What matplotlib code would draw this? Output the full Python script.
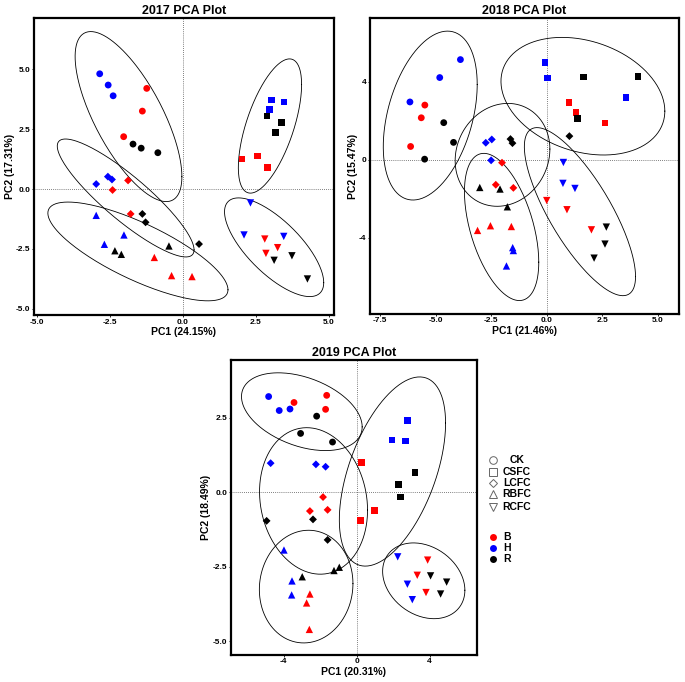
import numpy as np
import matplotlib
matplotlib.use("Agg")
import matplotlib.pyplot as plt
from matplotlib.lines import Line2D

plt.rcParams["font.family"] = ["Liberation Sans", "DejaVu Sans"]

# --- data -------------------------------------------------------
treatments = ["CK", "CSFC", "LCFC", "RBFC", "RCFC"]
sites = ["B", "H", "R"]          # 3 samples per site, in this order
site_colors = {"B": "#FF0000", "H": "#0000FF", "R": "#000000"}
markers = {"CK": "o", "CSFC": "s", "LCFC": "D", "RBFC": "^", "RCFC": "v"}
msize = {"CK": 24, "CSFC": 22, "LCFC": 16, "RBFC": 28, "RCFC": 28}

# rows = treatments, columns = B B B H H H R R R
pc1_2017 = [[-1.24, -1.39, -2.03, -2.85, -2.56, -2.39, -1.71, -1.43, -0.86],
            [2.02, 2.55, 2.90, 3.03, 3.45, 2.96, 2.88, 3.38, 3.17],
            [-1.88, -2.41, -1.79, -2.97, -2.57, -2.43, -1.39, -1.28, 0.55],
            [-0.98, -0.39, 0.31, -2.97, -2.02, -2.69, -2.33, -2.11, -0.48],
            [2.80, 2.84, 3.24, 2.31, 2.09, 3.45, 3.12, 3.73, 4.26]]
pc2_2017 = [[4.21, 3.26, 2.19, 4.82, 4.35, 3.90, 1.88, 1.71, 1.52],
            [1.25, 1.39, 0.91, 3.72, 3.64, 3.33, 3.05, 2.79, 2.37],
            [0.36, -0.04, -1.04, 0.21, 0.52, 0.40, -1.04, -1.39, -2.30],
            [-2.86, -3.62, -3.66, -1.10, -1.92, -2.31, -2.58, -2.73, -2.38],
            [-2.09, -2.69, -2.45, -0.58, -1.92, -1.98, -2.98, -2.79, -3.76]]

pc1_2018 = [[-5.48, -5.64, -6.12, -3.88, -4.81, -6.15, -4.63, -4.19, -5.49],
            [1.00, 1.32, 2.63, -0.07, 0.03, 3.56, 1.66, 4.10, 1.39],
            [-2.01, -2.29, -1.50, -2.74, -2.47, -2.50, -1.63, -1.54, 1.02],
            [-3.11, -2.53, -1.59, -1.53, -1.50, -1.81, -3.01, -2.10, -1.77],
            [0.00, 0.91, 2.01, 0.75, 0.73, 1.27, 2.68, 2.62, 2.13]]
pc2_2018 = [[2.80, 2.15, 0.68, 5.13, 4.21, 2.96, 1.90, 0.89, 0.03],
            [2.92, 2.43, 1.88, 4.97, 4.19, 3.18, 4.24, 4.27, 2.12],
            [-0.15, -1.28, -1.44, 0.87, 1.04, -0.03, 1.06, 0.85, 1.21],
            [-3.62, -3.38, -3.42, -4.50, -4.65, -5.44, -1.42, -1.50, -2.41],
            [-2.09, -2.56, -3.59, -0.14, -1.21, -1.47, -3.45, -4.32, -5.04]]

pc1_2019 = [[-3.43, -1.64, -1.70, -4.82, -4.24, -3.65, -2.19, -3.07, -1.32],
            [0.26, 0.99, 0.20, 2.78, 1.94, 2.67, 3.21, 2.30, 2.39],
            [-1.84, -2.56, -1.59, -4.71, -2.23, -1.70, -4.93, -2.39, -1.59],
            [-2.56, -2.74, -2.59, -3.98, -3.54, -3.56, -2.98, -1.24, -0.95],
            [3.89, 3.32, 3.80, 2.25, 2.78, 3.05, 4.05, 4.93, 4.60]]
pc2_2019 = [[3.02, 3.26, 2.79, 3.22, 2.75, 2.80, 2.56, 1.98, 1.69],
            [1.00, -0.61, -0.94, 2.42, 1.76, 1.73, 0.66, 0.27, -0.16],
            [-0.16, -0.63, -0.59, 0.98, 0.94, 0.86, -0.96, -0.91, -1.60],
            [-3.42, -3.72, -4.61, -1.94, -2.98, -3.45, -2.84, -2.63, -2.52],
            [-2.28, -2.79, -3.37, -2.17, -3.09, -3.61, -2.81, -3.02, -3.42]]

var_2017 = (24.15, 17.31)
var_2018 = (21.46, 15.47)
var_2019 = (20.31, 18.49)

F95 = 4.459  # qf(0.95, 2, 8): 95% ellipse, 9 samples per group


def cov_trob(X, nu=5, maxit=25, tol=0.01):
    # multivariate t estimate (same idea as MASS::cov.trob used by stat_ellipse)
    n, p = X.shape
    w = np.ones(n)
    loc = X.mean(axis=0)
    for _ in range(maxit):
        w0 = w
        Xc = X - loc
        _, d, vt = np.linalg.svd(np.sqrt(w / w.sum())[:, None] * Xc, full_matrices=False)
        wX = Xc @ vt.T / d
        Q = (wX ** 2).sum(axis=1)
        w = (nu + p) / (nu + Q)
        loc = (w[:, None] * X).sum(axis=0) / w.sum()
        if np.all(np.abs(w - w0) < tol):
            break
    cov = (np.sqrt(w)[:, None] * Xc).T @ (np.sqrt(w)[:, None] * Xc) / n
    return loc, cov


def conf_ellipse(ax, x, y):
    X = np.column_stack([x, y])
    loc, cov = cov_trob(X)
    r = np.sqrt(2 * F95)
    t = np.linspace(0, 2 * np.pi, 200)
    circ = np.column_stack([np.cos(t), np.sin(t)])
    pts = loc + r * circ @ np.linalg.cholesky(cov).T
    ax.plot(pts[:, 0], pts[:, 1], color="black", lw=0.6, zorder=1)


def pca_panel(ax, year, pc1, pc2, var, xlim, ylim, xticks, yticks, xfmt, yfmt):
    ax.axhline(0, color="#555555", lw=0.6, ls=(0, (1, 1.5)), zorder=0)
    ax.axvline(0, color="#555555", lw=0.6, ls=(0, (1, 1.5)), zorder=0)
    for i, tr in enumerate(treatments):
        conf_ellipse(ax, pc1[i], pc2[i])
        for j in range(9):
            s = sites[j // 3]
            ax.scatter(pc1[i][j], pc2[i][j], marker=markers[tr], s=msize[tr],
                       c=site_colors[s], edgecolors="none", zorder=3)
    ax.set_xlim(*xlim); ax.set_ylim(*ylim)
    ax.set_xticks(xticks); ax.set_yticks(yticks)
    ax.set_xticklabels([xfmt.format(v) for v in xticks], fontweight="bold")
    ax.set_yticklabels([yfmt.format(v) for v in yticks], fontweight="bold")
    ax.tick_params(labelsize=6, length=1.5, width=0.6, pad=1)
    for sp in ax.spines.values():
        sp.set_linewidth(1.6)
    ax.set_title(f"{year} PCA Plot", fontsize=9, fontweight="bold", pad=3)
    ax.set_xlabel(f"PC1 ({var[0]:.2f}%)", fontsize=7.5, fontweight="bold", labelpad=1)
    ax.set_ylabel(f"PC2 ({var[1]:.2f}%)", fontsize=7.5, fontweight="bold", labelpad=1)


fig = plt.figure(figsize=(6.85, 6.82), dpi=100)
ax1 = fig.add_axes([0.0496, 0.538, 0.438, 0.4355])
ax2 = fig.add_axes([0.540, 0.5396, 0.451, 0.434])
ax3 = fig.add_axes([0.337, 0.0396, 0.359, 0.4326])

pca_panel(ax1, 2017, pc1_2017, pc2_2017, var_2017, (-5.1, 5.17), (-5.27, 7.15),
          [-5, -2.5, 0, 2.5, 5], [-5, -2.5, 0, 2.5, 5], "{:.1f}", "{:.1f}")
pca_panel(ax2, 2018, pc1_2018, pc2_2018, var_2018, (-7.95, 5.94), (-7.9, 7.26),
          [-7.5, -5, -2.5, 0, 2.5, 5], [-4, 0, 4], "{:.1f}", "{:.0f}")
pca_panel(ax3, 2019, pc1_2019, pc2_2019, var_2019, (-6.89, 6.58), (-5.47, 4.45),
          [-4, 0, 4], [-5, -2.5, 0, 2.5], "{:.0f}", "{:.1f}")

# --- legends (drawn by hand to mimic ggplot layout) -------------
ys = [0.3255, 0.308, 0.292, 0.276, 0.2566]
for tr, yy in zip(treatments, ys):
    fig.add_artist(Line2D([0.72], [yy], transform=fig.transFigure,
                          marker=markers[tr], ms=5.5 if tr != "LCFC" else 4.5,
                          mfc="none", mec="#666666", mew=0.7, ls="none"))
    fig.text(0.7545, yy, tr, ha="center", va="center", fontsize=7.5, fontweight="bold")
yc = [0.2126, 0.1965, 0.180]
for s, yy in zip(sites, yc):
    fig.add_artist(Line2D([0.72], [yy], transform=fig.transFigure, marker="o",
                          ms=5, mfc=site_colors[s], mec="none", ls="none"))
    fig.text(0.734, yy, s, ha="left", va="center", fontsize=7.5, fontweight="bold")

fig.savefig("out.png", dpi=100)
